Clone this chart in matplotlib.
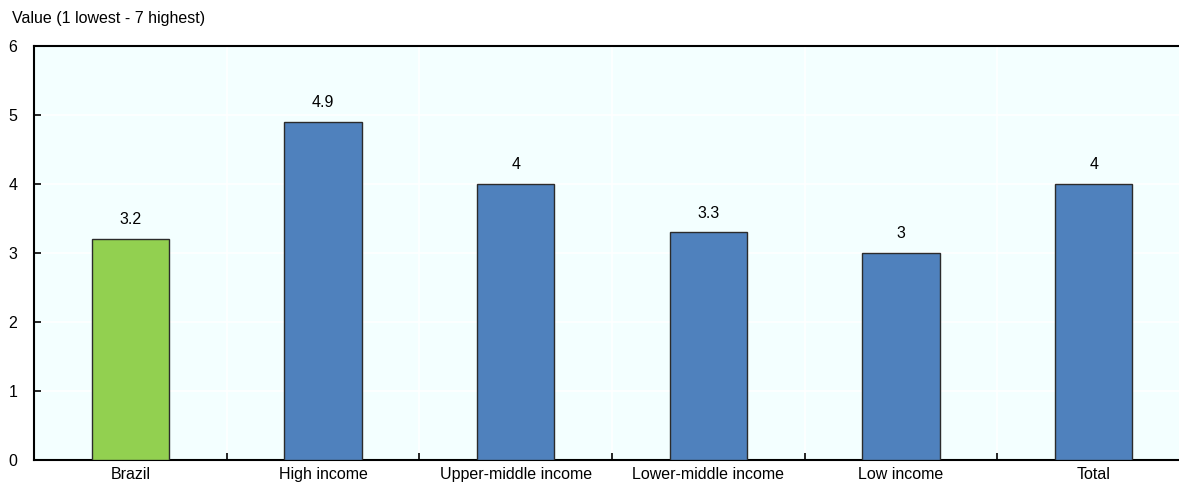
import matplotlib
matplotlib.use("Agg")
import matplotlib.pyplot as plt

categories = ["Brazil", "High income", "Upper-middle income",
              "Lower-middle income", "Low income", "Total"]
values = [3.2, 4.9, 4.0, 3.3, 3.0, 4.0]
value_labels = ["3.2", "4.9", "4", "3.3", "3", "4"]
bar_colors = ["#92D050", "#4F81BD", "#4F81BD", "#4F81BD", "#4F81BD", "#4F81BD"]

plt.rcParams["font.family"] = ["Liberation Sans", "DejaVu Sans"]
fs = 11.5

fig = plt.figure(figsize=(11.79, 4.86), dpi=100)
ax = fig.add_axes([34 / 1179, 26 / 486, 1156 / 1179, 414 / 486])
ax.set_facecolor("#F3FFFF")

x = list(range(len(categories)))
ax.bar(x, values, width=0.4, color=bar_colors, edgecolor="#2b2b2b",
       linewidth=1.0, zorder=3)

# value labels above each bar
for xi, v, lab in zip(x, values, value_labels):
    ax.text(xi, v + 0.17, lab, ha="center", va="bottom", fontsize=fs)

ax.set_xlim(-0.5, len(categories) - 0.5)
ax.set_ylim(0, 6)
ax.set_yticks(range(0, 7))

# category boundaries carry the x ticks and vertical gridlines
bounds = [i + 0.5 for i in range(len(categories) - 1)]
ax.set_xticks(bounds)
ax.set_xticklabels([])
ax.set_xticks(x, minor=True)
ax.set_xticklabels(categories, minor=True)
ax.tick_params(axis="x", which="minor", length=0, pad=5, labelsize=fs)
ax.tick_params(axis="x", which="major", direction="in", length=5, width=1.2)
ax.tick_params(axis="y", direction="in", length=5, width=1.2, labelsize=fs, pad=12)

ax.grid(True, which="major", color="white", linewidth=1.2, zorder=0)
ax.set_axisbelow(True)

ax.spines["right"].set_visible(False)
for s in ["left", "top", "bottom"]:
    ax.spines[s].set_linewidth(1.5)
    ax.spines[s].set_color("black")

fig.text(12 / 1179, 1 - 18 / 486, "Value (1 lowest - 7 highest)",
         fontsize=fs, ha="left", va="center")

fig.savefig("out.png", dpi=100, facecolor="white")
